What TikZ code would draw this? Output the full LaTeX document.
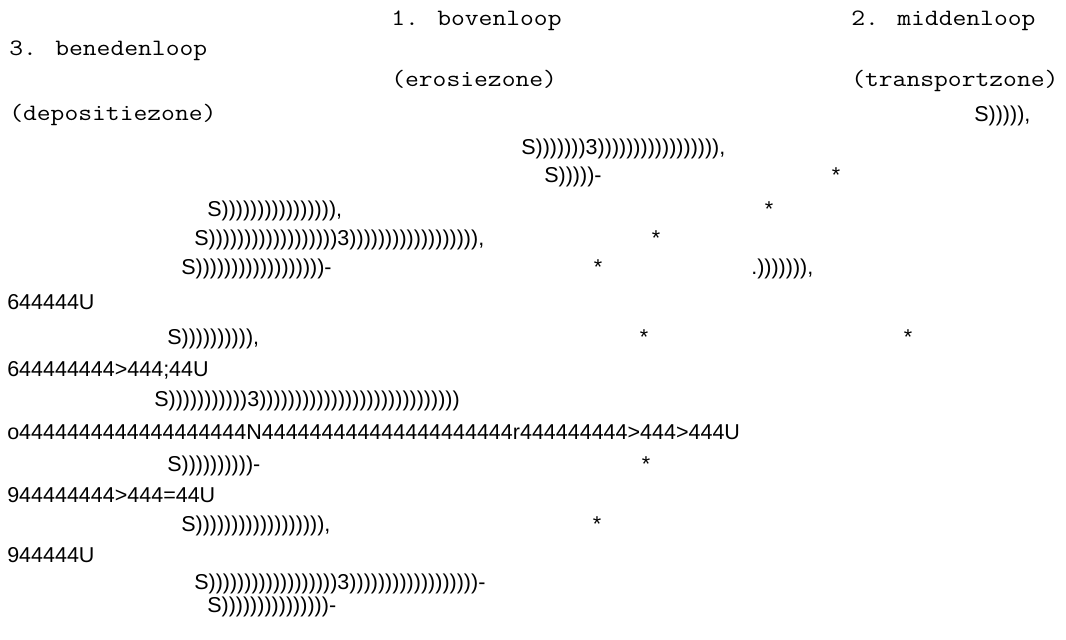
\documentclass[tikz,border=0pt]{standalone}
\usepackage{fontspec}
\setmainfont{Liberation Sans}
\newfontfamily\courfont{Latin Modern Mono}[FakeStretch=1.143]
\newcount\rpcount
\newcommand\Rep[2]{\rpcount=#1\relax\loop\ifnum\rpcount>0 #2\advance\rpcount by -1\repeat}
\tikzset{
  ar/.style={anchor=base west, inner sep=0pt, font=\fontsize{16.125pt}{19pt}\selectfont},
  mono/.style={anchor=base west, inner sep=0pt, font=\fontsize{17.6pt}{21pt}\selectfont\courfont},
  bar/.style={anchor=base, inner sep=0pt, font=\fontsize{16.125pt}{19pt}\selectfont}
}
\begin{document}
\begin{tikzpicture}[x=0.75pt,y=-0.75pt]
\fill[white] (0,0) rectangle (1066,639);
\useasboundingbox (0,0) rectangle (1066,639);
\node[mono] (t1) at (391,25) {1. bovenloop};
\node[mono] (t2) at (851,25) {2. middenloop};
\node[mono] (t3) at (9,55) {3. benedenloop};
\node[mono] (z1) at (391,86) {(erosiezone)};
\node[mono] (z2) at (851,86) {(transportzone)};
\node[mono] (z3) at (9,120) {(depositiezone)};
\node[ar] (l4) at (974,121) {S\Rep{5}{)},};
\node[ar] (l5) at (521,154) {S\Rep{7}{)}3\Rep{17}{)},};
\node[ar] (l6) at (544,182) {S\Rep{5}{)}-};
\node[bar] (v6) at (836,182) {*};
\node[ar] (l7) at (207,216) {S\Rep{16}{)},};
\node[bar] (v7) at (769,216) {*};
\node[ar] (l8) at (194,245) {S\Rep{18}{)}3\Rep{18}{)},};
\node[bar] (v8) at (656,245) {*};
\node[ar] (l9) at (181,274) {S\Rep{18}{)}-};
\node[bar] (v9) at (598,274) {*};
\node[ar] (l9b) at (751,274) {.\Rep{7}{)},};
\node[ar] (l10) at (7,309) {644444U};
\node[ar] (l11) at (167,344) {S\Rep{10}{)},};
\node[bar] (v11a) at (644,344) {*};
\node[bar] (v11b) at (908,344) {*};
\node[ar] (l12) at (7,376) {644444444>444;44U};
\node[ar] (l13) at (154,406) {S\Rep{11}{)}3\Rep{28}{)}};
\node[ar] (l14) at (7,439) {o\Rep{19}{4}N\Rep{21}{4}r\Rep{9}{4}>444>444U};
\node[ar] (l15) at (167,471) {S\Rep{10}{)}-};
\node[bar] (v15) at (646,471) {*};
\node[ar] (l16) at (7,502) {944444444>444=44U};
\node[ar] (l17) at (181,531) {S\Rep{18}{)},};
\node[bar] (v17) at (597,531) {*};
\node[ar] (l18) at (7,562) {944444U};
\node[ar] (l19) at (194,589) {S\Rep{18}{)}3\Rep{18}{)}-};
\node[ar] (l20) at (207,612) {S\Rep{15}{)}-};
\end{tikzpicture}
\end{document}
